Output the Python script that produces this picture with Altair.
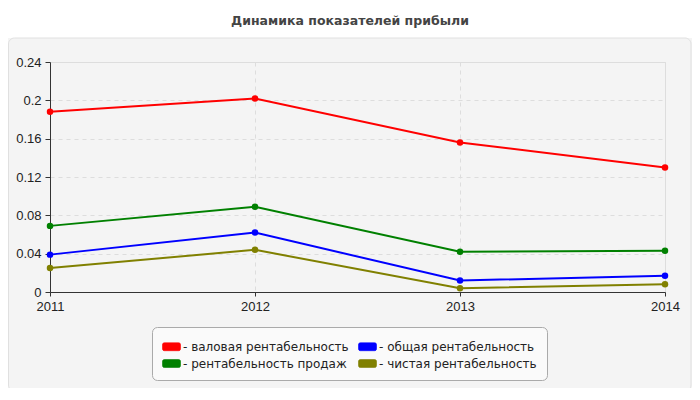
import altair as alt
import pandas as pd

# Data
years = ["2011", "2012", "2013", "2014"]
gross = [0.188, 0.202, 0.156, 0.130]
total = [0.039, 0.062, 0.012, 0.017]
sales = [0.069, 0.089, 0.042, 0.043]
net = [0.025, 0.044, 0.004, 0.008]

series_names = [
    "валовая рентабельность",
    "общая рентабельность",
    "рентабельность продаж",
    "чистая рентабельность",
]
series_colors = ["#ff0000", "#0000ff", "#008000", "#808000"]
y_ticks = [0, 0.04, 0.08, 0.12, 0.16, 0.2, 0.24]
chart_title = "Динамика показателей прибыли"

rows = []
for name, vals in zip(series_names, [gross, total, sales, net]):
    for yr, v in zip(years, vals):
        rows.append({"year": yr, "value": v, "series": name})
df = pd.DataFrame(rows)

font = "Liberation Sans"

# rounded rectangle used as legend swatch
swatch = ("M-0.8,-0.44 H0.8 A0.2,0.2 0 0 1 1,-0.24 V0.24 A0.2,0.2 0 0 1 0.8,0.44 "
          "H-0.8 A0.2,0.2 0 0 1 -1,0.24 V-0.24 A0.2,0.2 0 0 1 -0.8,-0.44 Z")

one = pd.DataFrame({"title": [chart_title]})

# white strip above the grey panel (the background is the panel colour)
top_strip = alt.Chart(one).mark_rect(fill="white").encode(
    x=alt.value(-42), x2=alt.value(642),
    y=alt.value(-54), y2=alt.value(-24),
)
# border of the grey panel
panel = alt.Chart(one).mark_rect(
    fill="transparent", stroke="#e0e0e0", strokeWidth=1, cornerRadius=6
).encode(
    x=alt.value(-41.5), x2=alt.value(641),
    y=alt.value(-24), y2=alt.value(329),
)
title = alt.Chart(one).mark_text(
    font="DejaVu Sans", fontSize=12.5, fontWeight="bold", color="#444444",
    align="center", baseline="middle"
).encode(
    x=alt.value(300), y=alt.value(-41), text="title:N"
)

x_enc = alt.X("year:O", title=None, sort=years,
              scale=alt.Scale(type="point", padding=0),
              axis=alt.Axis(labelAngle=0, labelFontSize=13, labelFont=font,
                            labelColor="#222", grid=True, gridDash=[4, 4],
                            gridColor="#dddddd", domainColor="#333",
                            tickColor="#333", tickSize=4, labelPadding=4))
y_enc = alt.Y("value:Q", title=None,
              scale=alt.Scale(domain=[0, 0.24], nice=False),
              axis=alt.Axis(values=y_ticks, format=".2~f", labelFontSize=13,
                            labelFont=font, labelColor="#222", grid=True,
                            gridDash=[4, 4], gridColor="#dddddd",
                            domainColor="#333", tickColor="#333", tickSize=5,
                            labelPadding=4))
color_scale = alt.Scale(domain=series_names, range=series_colors)
color_enc = alt.Color(
    "series:N",
    scale=color_scale,
    legend=alt.Legend(
        title=None, orient="none", legendX=102, legendY=265, columns=2,
        direction="horizontal",
        symbolType=swatch, symbolSize=324, symbolStrokeWidth=0.6,
        symbolStrokeColor="#777", labelFont="DejaVu Sans", labelFontSize=12,
        labelColor="#222", labelExpr="'- ' + datum.label", labelOffset=2,
        labelLimit=300, columnPadding=8, rowPadding=1,
        padding=10, fillColor="#fafafa", strokeColor="#aaaaaa",
        cornerRadius=5,
    ),
)

lines = alt.Chart(df).mark_line(strokeWidth=2).encode(
    x=x_enc, y=y_enc, color=color_enc
)
points = alt.Chart(df).mark_circle(size=42, opacity=1).encode(
    x=x_enc, y=y_enc, color=alt.Color("series:N", legend=None, scale=color_scale)
)

chart = alt.layer(top_strip, panel, title, lines, points).properties(
    width=615, height=230,
    autosize=alt.AutoSizeParams(type="none"),
    padding={"left": 42, "top": 54, "right": 27, "bottom": 96},
).configure_view(
    fill="#fbfbf6", stroke="#dddddd", strokeWidth=1
).configure(background="#f4f4f4")

chart.save("out.html", embed_options={"renderer": "svg", "actions": False})
